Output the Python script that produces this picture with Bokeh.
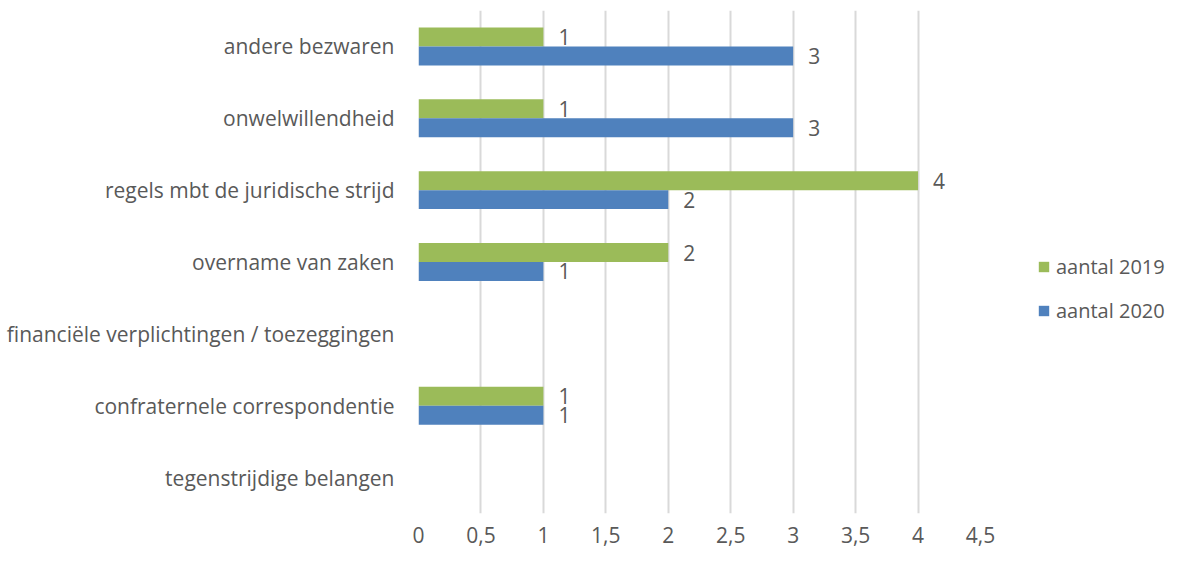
from bokeh.plotting import figure
from bokeh.models import ColumnDataSource, Legend, LegendItem, FixedTicker, CustomJSTickFormatter
from bokeh.transform import dodge
from bokeh.core.properties import value
from bokeh.embed import file_html
from bokeh.resources import INLINE

categories = ["tegenstrijdige belangen", "confraternele correspondentie",
              "financiële verplichtingen / toezeggingen", "overname van zaken",
              "regels mbt de juridische strijd", "onwelwillendheid", "andere bezwaren"]
aantal_2019 = [None, 1, None, 2, 4, 1, 1]
aantal_2020 = [None, 1, None, 1, 2, 3, 3]
series_names = ["aantal 2019", "aantal 2020"]
x_ticks = [0, 0.5, 1, 1.5, 2, 2.5, 3, 3.5, 4, 4.5]

GREEN = "#9BBB59"
BLUE = "#4F81BD"
TXT = "#595959"
FONT = "Open Sans"
FS = "21px"

def nan(v):
    return float("nan") if v is None else v

src = ColumnDataSource(dict(
    cat=categories,
    v19=[nan(v) for v in aantal_2019],
    v20=[nan(v) for v in aantal_2020],
))

def labels(vals):
    return ColumnDataSource(dict(
        cat=[c for c, v in zip(categories, vals) if v is not None],
        v=[v for v in vals if v is not None],
        t=[str(v) for v in vals if v is not None],
    ))

lab19 = labels(aantal_2019)
lab20 = labels(aantal_2020)

p = figure(y_range=categories, x_range=(0, 4.5),
           frame_width=562, frame_height=503,
           min_border_left=418, min_border_right=185, min_border_top=10, min_border_bottom=37,
           output_backend="svg", toolbar_location=None)
p.outline_line_color = None
p.background_fill_color = "white"

off = 0.132
h = 0.264
r19 = p.hbar(y=dodge("cat", off, range=p.y_range), right="v19", left=0, height=h,
             source=src, color=GREEN, line_color=None)
r20 = p.hbar(y=dodge("cat", -off, range=p.y_range), right="v20", left=0, height=h,
             source=src, color=BLUE, line_color=None)

for s, o in ((lab19, off), (lab20, -off)):
    p.text(x="v", y=dodge("cat", o, range=p.y_range), text="t", source=s,
           x_offset=15, text_align="left", text_baseline="middle",
           text_font=value(FONT), text_font_size=FS, text_color=TXT)

p.ygrid.grid_line_color = None
p.xgrid.grid_line_color = "#D9D9D9"
p.xgrid.grid_line_width = 2
p.xgrid.ticker = FixedTicker(ticks=x_ticks)

p.xaxis.ticker = FixedTicker(ticks=x_ticks)
p.xaxis.formatter = CustomJSTickFormatter(code="return tick.toString().replace('.', ',');")
for ax in (p.xaxis, p.yaxis):
    ax.axis_line_color = None
    ax.major_tick_line_color = None
    ax.minor_tick_line_color = None
    ax.major_label_text_font = FONT
    ax.major_label_text_font_size = FS
    ax.major_label_text_color = TXT
p.xaxis.major_label_standoff = 7
p.yaxis.major_label_standoff = 18

legend = Legend(items=[LegendItem(label=series_names[0], renderers=[r19]),
                       LegendItem(label=series_names[1], renderers=[r20])],
                location=(57, 189), orientation="vertical",
                label_text_font=FONT, label_text_font_size="20px", label_text_color=TXT,
                glyph_width=13, glyph_height=13, spacing=17, label_standoff=6,
                padding=0, margin=0,
                border_line_color=None, background_fill_alpha=0)
p.add_layout(legend, "right")

open("out.html", "w").write(file_html(p, INLINE))
